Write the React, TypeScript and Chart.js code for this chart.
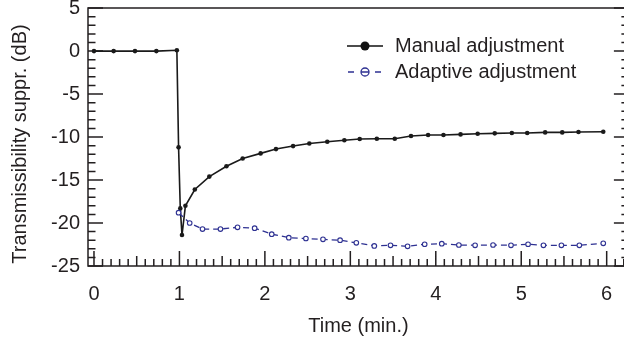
import React, { useEffect, useRef } from 'react';
import { Chart, registerables } from 'chart.js';

Chart.register(...registerables);

// ---- data ----
const manualTime = [0, 0.23, 0.48, 0.73, 0.97, 0.99, 1.01, 1.03, 1.07, 1.18, 1.35, 1.55, 1.74, 1.95, 2.13, 2.33, 2.52, 2.73, 2.93, 3.11, 3.31, 3.52, 3.71, 3.91, 4.09, 4.29, 4.49, 4.69, 4.89, 5.07, 5.28, 5.48, 5.67, 5.96];
const manualDb = [0, 0, 0, 0, 0.1, -11.2, -18.3, -21.4, -18.0, -16.1, -14.6, -13.4, -12.5, -11.9, -11.4, -11.05, -10.75, -10.55, -10.38, -10.23, -10.2, -10.2, -9.88, -9.77, -9.77, -9.69, -9.62, -9.57, -9.53, -9.53, -9.46, -9.46, -9.42, -9.38];
const adaptiveTime = [0.99, 1.12, 1.27, 1.48, 1.68, 1.88, 2.08, 2.28, 2.48, 2.68, 2.88, 3.07, 3.28, 3.47, 3.67, 3.87, 4.07, 4.27, 4.46, 4.67, 4.88, 5.08, 5.26, 5.47, 5.68, 5.96];
const adaptiveDb = [-18.8, -20.0, -20.7, -20.7, -20.5, -20.6, -21.3, -21.7, -21.8, -21.9, -22.0, -22.3, -22.67, -22.59, -22.71, -22.47, -22.4, -22.56, -22.59, -22.56, -22.59, -22.47, -22.59, -22.59, -22.59, -22.36];
const xTickValues = [0, 1, 2, 3, 4, 5, 6];
const yTickValues = [5, 0, -5, -10, -15, -20, -25];
const seriesLabels = ['Manual adjustment', 'Adaptive adjustment'];
const xTitle = 'Time (min.)';
const yTitle = 'Transmissibility suppr. (dB)';

const FONT = '"Liberation Sans", Arial, Helvetica, sans-serif';
const INK = '#231f20';
const BLUE = '#2e3192';

const framePlugin = {
  id: 'frameTicks',
  beforeDatasetsDraw(chart: any) {
    const { ctx, chartArea: a, scales } = chart;
    const xs = scales.x;
    const ys = scales.y;
    ctx.save();
    ctx.strokeStyle = INK;
    ctx.lineWidth = 1.5;
    ctx.beginPath();
    ctx.rect(a.left, a.top, a.right - a.left, a.bottom - a.top);
    ctx.stroke();
    ctx.beginPath();
    for (let i = 0; i <= 62; i++) {
      const v = i / 10;
      const px = xs.getPixelForValue(v);
      const len = i % 10 === 0 ? 15 : i % 5 === 0 ? 10 : 7;
      ctx.moveTo(px, a.bottom);
      ctx.lineTo(px, a.bottom - len);
    }
    for (let v = -25; v <= 5; v++) {
      const py = ys.getPixelForValue(v);
      const len = v % 5 === 0 ? 15 : 7.5;
      ctx.moveTo(a.left, py);
      ctx.lineTo(a.left + len, py);
      ctx.moveTo(a.right, py);
      ctx.lineTo(a.right - len, py);
    }
    ctx.stroke();
    ctx.restore();
  },
};

const yTitlePlugin = {
  id: 'yTitle',
  afterDraw(chart: any) {
    const { ctx } = chart;
    ctx.save();
    ctx.translate(20, 144);
    ctx.rotate(-Math.PI / 2);
    ctx.font = `20px ${FONT}`;
    ctx.fillStyle = INK;
    ctx.textAlign = 'center';
    ctx.textBaseline = 'middle';
    ctx.fillText(yTitle, 0, 0);
    ctx.restore();
  },
};

const legendPlugin = {
  id: 'insideLegend',
  afterDraw(chart: any) {
    const { ctx } = chart;
    ctx.save();
    ctx.font = `20px ${FONT}`;
    ctx.textBaseline = 'middle';
    ctx.textAlign = 'left';
    // manual
    const y1 = 46;
    ctx.strokeStyle = '#111';
    ctx.lineWidth = 1.6;
    ctx.beginPath();
    ctx.moveTo(347, y1);
    ctx.lineTo(383, y1);
    ctx.stroke();
    ctx.fillStyle = '#111';
    ctx.beginPath();
    ctx.arc(365, y1, 4.5, 0, Math.PI * 2);
    ctx.fill();
    ctx.fillStyle = INK;
    ctx.fillText(seriesLabels[0], 395, y1);
    // adaptive
    const y2 = 72;
    ctx.strokeStyle = BLUE;
    ctx.lineWidth = 1.3;
    ctx.beginPath();
    ctx.moveTo(348, y2);
    ctx.lineTo(354, y2);
    ctx.moveTo(375, y2);
    ctx.lineTo(381, y2);
    ctx.moveTo(361, y2);
    ctx.lineTo(369, y2);
    ctx.stroke();
    ctx.beginPath();
    ctx.arc(365, y2, 4, 0, Math.PI * 2);
    ctx.stroke();
    ctx.fillStyle = INK;
    ctx.fillText(seriesLabels[1], 395, y2);
    ctx.restore();
  },
};

export default function App() {
  const ref = useRef<HTMLCanvasElement | null>(null);
  useEffect(() => {
    document.body.style.margin = '0';
    const canvas = ref.current!;
    const chart = new Chart(canvas, {
      type: 'line',
      data: {
        datasets: [
          {
            label: seriesLabels[0],
            data: manualTime.map((t, i) => ({ x: t, y: manualDb[i] })),
            borderColor: '#1a1a1a',
            backgroundColor: '#1a1a1a',
            borderWidth: 1.6,
            pointRadius: 2.3,
            pointBorderWidth: 0,
            pointBackgroundColor: '#1a1a1a',
            tension: 0,
            order: 1,
          },
          {
            label: seriesLabels[1],
            data: adaptiveTime.map((t, i) => ({ x: t, y: adaptiveDb[i] })),
            borderColor: BLUE,
            backgroundColor: '#ffffff',
            borderWidth: 1.3,
            borderDash: [6, 4],
            pointRadius: 2.3,
            pointBorderWidth: 1.1,
            pointBorderColor: BLUE,
            pointBackgroundColor: '#ffffff',
            tension: 0,
            order: 0,
          },
        ],
      },
      options: {
        animation: false,
        responsive: false,
        devicePixelRatio: 1,
        layout: { padding: { top: 8, right: 5, left: 0, bottom: 0 } },
        plugins: { legend: { display: false }, tooltip: { enabled: false } },
        scales: {
          x: {
            type: 'linear',
            min: -0.07,
            max: 6.26,
            grid: { display: false, drawTicks: false },
            border: { display: false },
            afterBuildTicks: (s: any) => {
              s.ticks = xTickValues.map((v) => ({ value: v }));
            },
            afterFit: (s: any) => {
              s.height = 75;
            },
            ticks: {
              color: INK,
              font: { family: FONT, size: 20 },
              padding: 16,
              maxRotation: 0,
              callback: (v: any) => String(v),
            },
            title: {
              display: true,
              text: xTitle,
              color: INK,
              font: { family: FONT, size: 20 },
              padding: { top: 0, bottom: 3 },
            },
          },
          y: {
            type: 'linear',
            min: -25,
            max: 5,
            grid: { display: false, drawTicks: false },
            border: { display: false },
            afterBuildTicks: (s: any) => {
              s.ticks = yTickValues.map((v) => ({ value: v }));
            },
            afterFit: (s: any) => {
              s.width = 88;
            },
            ticks: {
              color: INK,
              font: { family: FONT, size: 20, lineHeight: 0.01 },
              padding: 8,
              callback: (v: any) => String(v),
            },
            title: { display: false },
          },
        },
      },
      plugins: [framePlugin, legendPlugin, yTitlePlugin],
    });
    return () => chart.destroy();
  }, []);
  return (
    <div style={{ position: 'absolute', left: 0, top: 0, width: 624, height: 341, overflow: 'hidden', background: '#fff' }}>
      <canvas ref={ref} width={634} height={341} style={{ width: 634, height: 341, display: 'block' }} />
    </div>
  );
}
